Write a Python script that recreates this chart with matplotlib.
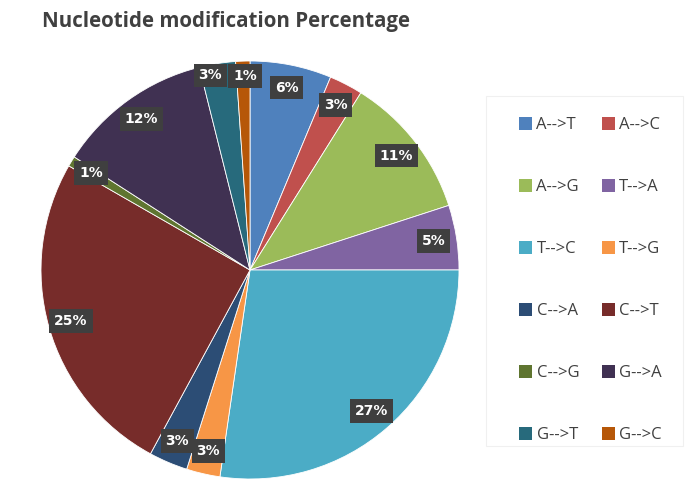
import matplotlib
matplotlib.use("Agg")
import numpy as np
import matplotlib.pyplot as plt
from matplotlib.patches import Patch, Rectangle

labels = ["A-->T", "A-->C", "A-->G", "T-->A", "T-->C", "T-->G",
          "C-->A", "C-->T", "C-->G", "G-->A", "G-->T", "G-->C"]
values = [6.3, 2.6, 11.1, 5.0, 27.3, 2.6, 3.0, 25.4, 0.8, 12.0, 2.8, 1.1]
colors = ["#4F81BD", "#C0504D", "#9BBB59", "#8064A2", "#4BACC6", "#F79646",
          "#2C4D75", "#772C2A", "#5F7530", "#403152", "#276A7C", "#B65708"]

fig = plt.figure(figsize=(6.85, 4.82), dpi=100)
fig.patch.set_facecolor("white")

cx, cy, r = 250, 270, 209
W, H = 685, 482
ax = fig.add_axes([(cx - r) / W, (H - cy - r) / H, 2 * r / W, 2 * r / H])

wedges, texts, autotexts = ax.pie(
    values, colors=colors, startangle=90, counterclock=False,
    autopct="%.0f%%", pctdistance=0.89, radius=1.0,
    wedgeprops=dict(linewidth=0.6, edgecolor="white"),
    textprops=dict(color="white", fontsize=10, fontweight="bold"))
for t in autotexts:
    t.set_bbox(dict(boxstyle="square,pad=0.35", facecolor="#3f3f3f", edgecolor="none"))

# nudge the G-->T label a little to avoid overlapping the G-->C label
w = wedges[10]
ang = np.deg2rad((w.theta1 + w.theta2) / 2 + 2.5)
autotexts[10].set_position((0.95 * np.cos(ang), 0.95 * np.sin(ang)))
w = wedges[11]
ang = np.deg2rad((w.theta1 + w.theta2) / 2 - 0.5)
autotexts[11].set_position((0.93 * np.cos(ang), 0.93 * np.sin(ang)))

ax.set_xlim(-1, 1)
ax.set_ylim(-1, 1)
ax.set_aspect("equal")
ax.axis("off")

fig.text(42 / W, 1 - 21 / H, "Nucleotide modification Percentage",
         fontsize=14.8, fontweight="bold", color="#404040",
         family=["Open Sans", "DejaVu Sans"], ha="left", va="center")

# faint legend frame
fig.patches.append(Rectangle((486 / W, 1 - 446 / H), 197 / W, 350 / H,
                             transform=fig.transFigure, facecolor="none",
                             edgecolor="#f0f0f0", linewidth=0.8))

# row-wise order: reorder for matplotlib's column-wise filling
order = list(range(0, 12, 2)) + list(range(1, 12, 2))
handles = [Patch(facecolor=colors[i], edgecolor="none") for i in order]
leg_labels = [labels[i] for i in order]
leg = fig.legend(handles, leg_labels, ncol=2, loc="upper left",
                 bbox_to_anchor=(519 / W, 1 - 117 / H), borderaxespad=0,
                 borderpad=0, labelspacing=2.75, columnspacing=1.35,
                 handlelength=0.8, handleheight=0.8, handletextpad=0.25,
                 frameon=False,
                 prop=dict(family=["Open Sans", "DejaVu Sans"], size=12))
for t in leg.get_texts():
    t.set_color("#404040")

fig.savefig("out.png", dpi=100)
